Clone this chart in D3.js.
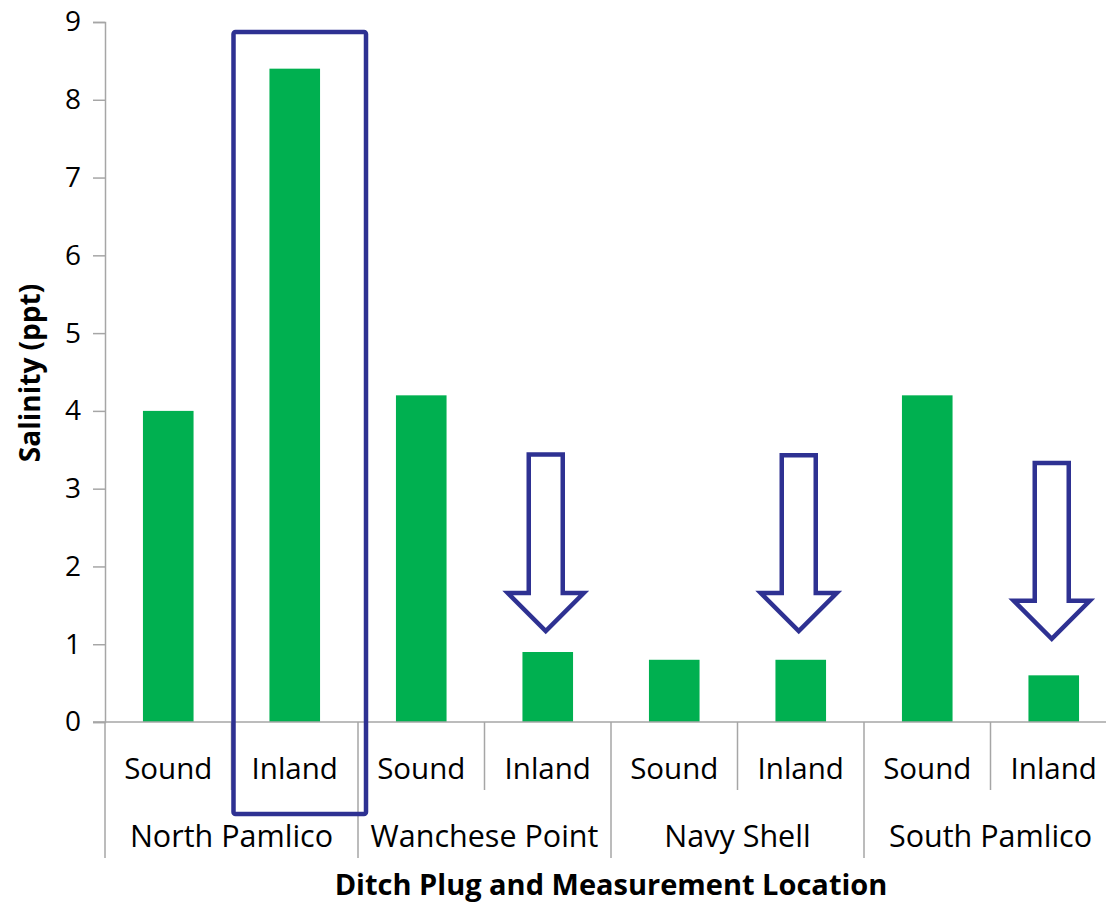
<!DOCTYPE html>
<html>
<head>
<meta charset="utf-8">
<script src="https://cdn.jsdelivr.net/npm/d3@7"></script>
<style>
  body { margin: 0; background: #fff; }
  svg text { font-family: "Open Sans", "Noto Sans", sans-serif; }
</style>
</head>
<body>
<svg id="chart" width="1106" height="904"></svg>
<script>
// data
var sites = ['North Pamlico', 'Wanchese Point', 'Navy Shell', 'South Pamlico'];
var spots = ['Sound', 'Inland'];
var salinity = [4.0, 8.4, 4.2, 0.9, 0.8, 0.8, 4.2, 0.6];
var yTicks = [0, 1, 2, 3, 4, 5, 6, 7, 8, 9];
// which bars get the down arrow, and the highlighted one
var arrowBars = [3, 5, 7];
var arrowTop = [3.44, 3.43, 3.33];
var arrowTip = [1.17, 1.17, 1.07];
var boxBar = 1;

var svg = d3.select('#chart');
var green = '#00b050',
    navy = '#2e3192',
    grid = '#a6a6a6';

var keys = [];
sites.forEach(function (s, i) {
    spots.forEach(function (p, j) { keys.push(i * 2 + j); });
});

var x = d3.scaleBand()
    .domain(keys)
    .range([105, 1117])
    .padding(0);

var y = d3.scaleLinear()
    .domain([0, 9])
    .range([722, 22]);

var bw = x.bandwidth();

// y axis
var yAxis = svg.append('g')
    .attr('transform', 'translate(105,0)')
    .call(d3.axisLeft(y).tickValues(yTicks).tickSize(12).tickPadding(12).tickFormat(d3.format('d')));
yAxis.select('.domain').attr('stroke', grid).attr('stroke-width', 1.5);
yAxis.selectAll('.tick line').attr('stroke', grid).attr('stroke-width', 1.5);
yAxis.selectAll('.tick text')
    .style('font-size', '28px')
    .style('fill', '#000');

// bars
svg.append('g').selectAll('rect')
    .data(salinity)
    .join('rect')
    .attr('x', function (d, i) { return x(i) + bw * 0.3; })
    .attr('width', bw * 0.4)
    .attr('y', function (d) { return y(d); })
    .attr('height', function (d) { return y(0) - y(d); })
    .style('fill', green);

// x axis line
svg.append('line')
    .attr('x1', 93).attr('x2', 1117)
    .attr('y1', y(0)).attr('y2', y(0))
    .attr('stroke', grid).attr('stroke-width', 1.5);

// category dividers: long between sites, short between sound/inland
keys.forEach(function (k) {
    var long = k % 2 === 0;
    svg.append('line')
        .attr('x1', x(k)).attr('x2', x(k))
        .attr('y1', y(0)).attr('y2', long ? 858 : 790)
        .attr('stroke', grid).attr('stroke-width', 1.5);
});

// sub labels
svg.append('g').selectAll('text')
    .data(keys)
    .join('text')
    .attr('x', function (k) { return x(k) + bw / 2; })
    .attr('y', 779)
    .attr('text-anchor', 'middle')
    .style('font-size', '29.5px')
    .text(function (k) { return spots[k % 2]; });

// site labels
svg.append('g').selectAll('text')
    .data(sites)
    .join('text')
    .attr('x', function (s, i) { return x(i * 2) + bw; })
    .attr('y', 847)
    .attr('text-anchor', 'middle')
    .style('font-size', '30.5px')
    .text(function (s) { return s; });

// axis titles
svg.append('text')
    .attr('x', 611)
    .attr('y', 895)
    .attr('text-anchor', 'middle')
    .style('font-size', '29px')
    .style('font-weight', 'bold')
    .text('Ditch Plug and Measurement Location');

svg.append('text')
    .attr('transform', 'translate(40,373) rotate(-90)')
    .attr('text-anchor', 'middle')
    .style('font-size', '28px')
    .style('font-weight', 'bold')
    .text('Salinity (ppt)');

// highlight box round the big inland bar
svg.append('rect')
    .attr('x', x(boxBar) + 2)
    .attr('y', 32)
    .attr('width', bw + 6)
    .attr('height', 782)
    .attr('rx', 2)
    .style('fill', 'none')
    .style('stroke', navy)
    .style('stroke-width', 4.5);

// down arrows over the small inland bars
arrowBars.forEach(function (b, i) {
    var cx = x(b) + bw / 2 - 2,
        top = y(arrowTop[i]),
        tip = y(arrowTip[i]),
        shoulder = tip - 38,
        sw = 17, hw = 38;
    var pts = [
        [cx - sw, top], [cx + sw, top], [cx + sw, shoulder], [cx + hw, shoulder],
        [cx, tip], [cx - hw, shoulder], [cx - sw, shoulder]
    ];
    svg.append('path')
        .attr('d', d3.line()(pts) + 'Z')
        .style('fill', '#fff')
        .style('stroke', navy)
        .style('stroke-width', 4.5);
});
</script>
</body>
</html>
